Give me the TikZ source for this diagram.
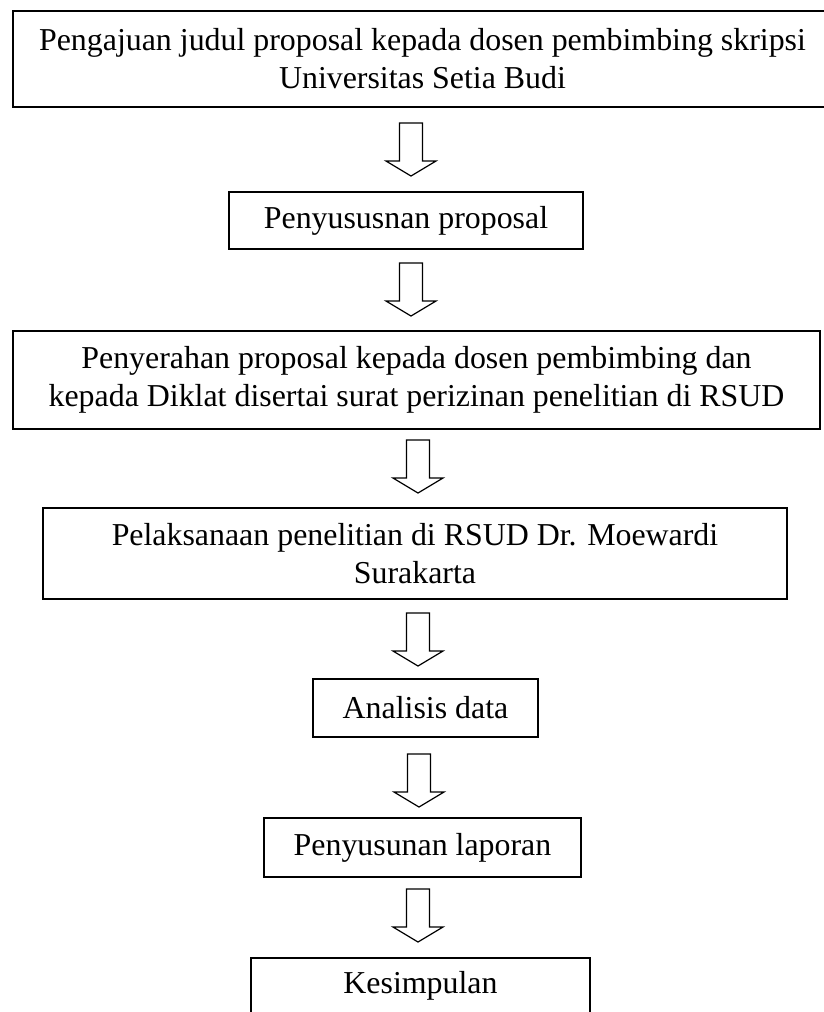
\documentclass[tikz,border=0pt]{standalone}
\usepackage{fontspec}
\setmainfont{Liberation Serif}
\begin{document}
\begin{tikzpicture}[x=1bp,y=-1bp,
  box/.style={draw, line width=1.8bp, inner sep=0pt, align=center,
    font=\fontsize{32}{38}\selectfont},
  downarrow/.pic={\draw[line width=1.2bp, line join=miter]
    (-11.5,0) -- (11.5,0) -- (11.5,38) -- (25,38) -- (0,53) -- (-25,38) -- (-11.5,38) -- cycle;}]
\useasboundingbox (0,0) rectangle (824,1012);
\node[box, minimum width=819bp, minimum height=96bp] (b1) at (422.5,59)
  {Pengajuan judul proposal kepada dosen pembimbing skripsi\\Universitas Setia Budi};
\node[box, minimum width=354bp, minimum height=57bp] (b2) at (406,220.5)
  {Penyususnan proposal};
\node[box, minimum width=807bp, minimum height=98bp] (b3) at (416.5,380)
  {Penyerahan proposal kepada dosen pembimbing dan\\kepada Diklat disertai surat perizinan penelitian di RSUD};
\node[box, minimum width=744bp, minimum height=91bp] (b4) at (415,553.5)
  {Pelaksanaan penelitian di RSUD Dr. Moewardi\\Surakarta};
\node[box, minimum width=225bp, minimum height=58bp] (b5) at (425.5,708)
  {Analisis data};
\node[box, minimum width=317bp, minimum height=59bp] (b6) at (422.5,847.5)
  {Penyusunan laporan};
\node[box, anchor=north, minimum width=339bp, inner ysep=0pt, text height=36bp, text depth=40bp] (b7) at (420.5,957)
  {Kesimpulan};
\pic (a1) at (411,123) {downarrow};
\pic (a2) at (411,263) {downarrow};
\pic (a3) at (418,440) {downarrow};
\pic (a4) at (418,613) {downarrow};
\pic (a5) at (419,754) {downarrow};
\pic (a6) at (418,889) {downarrow};
\end{tikzpicture}
\end{document}
